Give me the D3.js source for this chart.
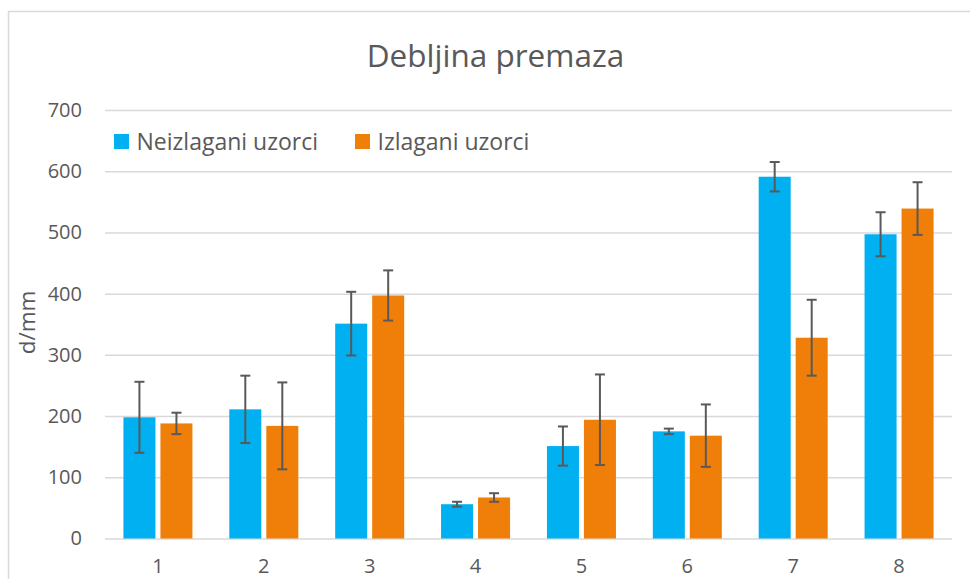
<!DOCTYPE html>
<html>
<head>
<meta charset="utf-8">
<script src="https://cdn.jsdelivr.net/npm/d3@7"></script>
<style>
  html, body { margin: 0; padding: 0; background: #fff; }
  svg { display: block; font-family: "Open Sans", sans-serif; }
</style>
</head>
<body>
<svg id="chart" width="970" height="579"></svg>
<script>
// Coating thickness per sample, mean and error (same units as the axis)
const categories = ["1", "2", "3", "4", "5", "6", "7", "8"];
const seriesNames = ["Neizlagani uzorci", "Izlagani uzorci"];
const neizlagani = [198, 211, 351, 56, 151, 175, 591, 497];
const neizlaganiErr = [58, 55, 52, 4, 32, 4.5, 24, 36];
const izlagani = [188, 184, 397, 67, 194, 168, 328, 539];
const izlaganiErr = [17.5, 71, 41, 7, 74, 51, 62, 43];
const yTicks = [0, 100, 200, 300, 400, 500, 600, 700];
const colors = ["#00B0F0", "#F07F09"];

const svg = d3.select("#chart");
const plotLeft = 105, plotRight = 952, plotTop = 110, plotBottom = 538.5;

// outer chart frame
svg.append("rect")
  .attr("x", 8.5).attr("y", 11.5)
  .attr("width", 1000).attr("height", 1000)
  .attr("fill", "none").attr("stroke", "#D9D9D9").attr("stroke-width", 1.5);

const x0 = d3.scaleBand().domain(categories).range([plotLeft, plotRight]).padding(0);
const x1 = d3.scaleBand().domain(seriesNames).range([0, x0.bandwidth()])
  .paddingInner(0.135).paddingOuter(0.498);
const y = d3.scaleLinear().domain([0, 700]).range([plotBottom, plotTop]);

// y axis with gridlines
const yAxis = svg.append("g")
  .attr("transform", `translate(${plotLeft},0)`)
  .call(d3.axisLeft(y).tickValues(yTicks).tickSize(-(plotRight - plotLeft)).tickPadding(23));
yAxis.select(".domain").remove();
yAxis.selectAll(".tick line").attr("stroke", "#D9D9D9").attr("stroke-width", 1.5);
yAxis.selectAll(".tick text")
  .attr("fill", "#595959").style("font-size", "20px")
  .style("font-family", "'Open Sans', sans-serif");

// x axis labels
const xAxis = svg.append("g")
  .attr("transform", `translate(0,${plotBottom})`)
  .call(d3.axisBottom(x0).tickSize(0).tickPadding(20));
xAxis.select(".domain").remove();
xAxis.selectAll(".tick text")
  .attr("fill", "#595959").style("font-size", "20px")
  .style("font-family", "'Open Sans', sans-serif");

const data = categories.map((c, i) => ({
  cat: c,
  vals: [
    { name: seriesNames[0], v: neizlagani[i], e: neizlaganiErr[i], col: colors[0] },
    { name: seriesNames[1], v: izlagani[i], e: izlaganiErr[i], col: colors[1] }
  ]
}));

const groups = svg.append("g").selectAll("g")
  .data(data).join("g")
  .attr("transform", d => `translate(${x0(d.cat)},0)`);

groups.selectAll("rect")
  .data(d => d.vals).join("rect")
  .attr("x", d => x1(d.name))
  .attr("y", d => y(d.v))
  .attr("width", x1.bandwidth())
  .attr("height", d => y(0) - y(d.v))
  .attr("fill", d => d.col);

// error bars
const capW = 10;
const eb = groups.selectAll("g.err")
  .data(d => d.vals).join("g").attr("class", "err")
  .attr("stroke", "#595959").attr("stroke-width", 2);
eb.append("line")
  .attr("x1", d => x1(d.name) + x1.bandwidth() / 2)
  .attr("x2", d => x1(d.name) + x1.bandwidth() / 2)
  .attr("y1", d => y(d.v + d.e)).attr("y2", d => y(d.v - d.e));
eb.append("line")
  .attr("x1", d => x1(d.name) + x1.bandwidth() / 2 - capW / 2)
  .attr("x2", d => x1(d.name) + x1.bandwidth() / 2 + capW / 2)
  .attr("y1", d => y(d.v + d.e)).attr("y2", d => y(d.v + d.e));
eb.append("line")
  .attr("x1", d => x1(d.name) + x1.bandwidth() / 2 - capW / 2)
  .attr("x2", d => x1(d.name) + x1.bandwidth() / 2 + capW / 2)
  .attr("y1", d => y(d.v - d.e)).attr("y2", d => y(d.v - d.e));

// title
svg.append("text")
  .attr("x", 495.5).attr("y", 67)
  .attr("text-anchor", "middle")
  .attr("fill", "#595959")
  .style("font-size", "31.5px")
  .text("Debljina premaza");

// y axis title
svg.append("text")
  .attr("transform", "translate(35,322.5) rotate(-90)")
  .attr("text-anchor", "middle")
  .attr("fill", "#595959")
  .style("font-size", "22.5px")
  .text("d/mm");

// legend
const legendX = [114, 355];
const legend = svg.append("g").selectAll("g")
  .data(seriesNames).join("g")
  .attr("transform", (d, i) => `translate(${legendX[i]},134)`);
legend.append("rect")
  .attr("width", 15).attr("height", 15)
  .attr("fill", (d, i) => colors[i]);
legend.append("text")
  .attr("x", 22.5).attr("y", 15.5)
  .attr("fill", "#595959")
  .style("font-size", "23px")
  .text(d => d);
</script>
</body>
</html>
